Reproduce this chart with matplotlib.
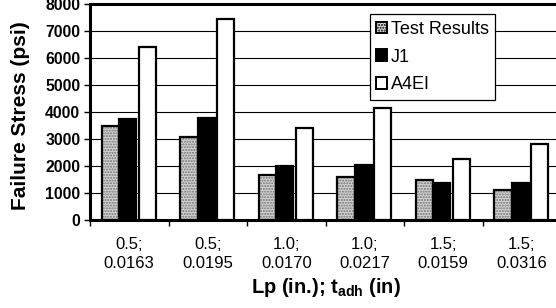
import numpy as np
import matplotlib.pyplot as plt
from matplotlib.patches import Patch

plt.rcParams['font.family'] = ['Liberation Sans', 'DejaVu Sans']
plt.rcParams['mathtext.fontset'] = 'custom'
plt.rcParams['mathtext.rm'] = 'Liberation Sans:bold'
plt.rcParams['mathtext.bf'] = 'Liberation Sans:bold'
plt.rcParams['mathtext.default'] = 'bf'

# data
categories = ['0.5;\n0.0163', '0.5;\n0.0195', '1.0;\n0.0170',
              '1.0;\n0.0217', '1.5;\n0.0159', '1.5;\n0.0316']
test_results = [3480, 3070, 1650, 1600, 1480, 1100]
j1 = [3740, 3780, 2000, 2040, 1370, 1370]
a4ei = [6400, 7440, 3400, 4150, 2260, 2800]
series_names = ['Test Results', 'J1', 'A4EI']

fig = plt.figure(figsize=(5.56, 3.08), dpi=100)
# plot area runs past the right edge of the picture (cropped in the original)
ax = fig.add_axes([90/556, 88/308, 471/556, 216/308])

x = np.arange(len(categories))
w = 0.22
offs = [-0.24, -0.02, 0.23]

# stippled grey bars: fill first, then black outline on top
ax.bar(x + offs[0], test_results, w, color='#d4d4d4', hatch='......',
       edgecolor='#707070', linewidth=0, zorder=2)
ax.bar(x + offs[0], test_results, w, fill=False, edgecolor='black',
       linewidth=1.6, zorder=3)
ax.bar(x + offs[1], j1, w, color='black', edgecolor='black',
       linewidth=1.6, zorder=3)
ax.bar(x + offs[2], a4ei, w, color='white', edgecolor='black',
       linewidth=1.6, zorder=3)

ax.set_xlim(-0.5, len(categories) - 0.5)
ax.set_ylim(0, 8000)
ax.set_yticks(np.arange(0, 8001, 1000))
ax.set_yticklabels([str(v) for v in range(0, 8001, 1000)],
                   fontsize=11.3, fontweight='bold')
ax.yaxis.grid(True, color='black', linewidth=0.8)
ax.set_axisbelow(True)

ax.set_xticks(x)
ax.set_xticklabels(categories, fontsize=12, linespacing=1.35)
ax.set_xticks(np.arange(-0.5, len(categories)), minor=True)
ax.tick_params(axis='x', which='major', length=0, pad=12)
ax.tick_params(axis='x', which='minor', length=4, width=1, direction='out')
ax.tick_params(axis='y', length=4, width=1, pad=3)

for s in ['left', 'top', 'bottom', 'right']:
    ax.spines[s].set_linewidth(2.2)

ax.set_xlabel(r'Lp (in.); t$_{adh}$ (in)', fontsize=14.5,
              fontweight='bold', labelpad=4)
fig.text(21/556, 1 - 116/308, 'Failure Stress (psi)', rotation=90,
         ha='center', va='center', fontsize=15, fontweight='bold')

handles = [Patch(facecolor='#d4d4d4', hatch='......', edgecolor='black', linewidth=1.4),
           Patch(facecolor='black', edgecolor='black', linewidth=1.4),
           Patch(facecolor='white', edgecolor='black', linewidth=1.4)]
leg = ax.legend(handles, series_names, loc='upper left',
                bbox_to_anchor=(0.594, 0.952),
                fontsize=13, frameon=True, fancybox=False, shadow=False,
                framealpha=1, edgecolor='black', handlelength=0.6,
                handleheight=0.6, handletextpad=0.2, labelspacing=0.6,
                borderpad=0.35, borderaxespad=0)
leg.get_frame().set_linewidth(0.9)

plt.savefig('out.png', dpi=100)
